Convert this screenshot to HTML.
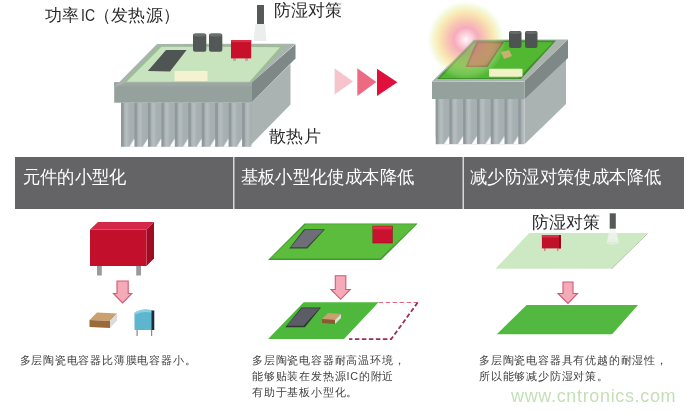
<!DOCTYPE html>
<html><head><meta charset="utf-8">
<style>
html,body{margin:0;padding:0;background:#fff;}
body{width:695px;height:411px;position:relative;overflow:hidden;filter:blur(0.3px);font-family:"Liberation Sans",sans-serif;}
svg{position:absolute;left:0;top:0;}
.t{position:absolute;white-space:nowrap;line-height:1;}
.hd{color:#fff;font-size:17px;letter-spacing:0.4px;top:167.5px;transform-origin:0 0;transform:scaleY(1.04);}
.sm{color:#404040;font-size:10.8px;letter-spacing:0.8px;line-height:16.1px;}
</style></head><body>
<svg width="695" height="411" viewBox="0 0 695 411">
<defs>
  <linearGradient id="fin1" x1="0" y1="0" x2="13.4" y2="0" gradientUnits="userSpaceOnUse" spreadMethod="repeat">
    <stop offset="0" stop-color="#8e9593"/>
    <stop offset="0.15" stop-color="#8e9593"/>
    <stop offset="0.2" stop-color="#a7afad"/>
    <stop offset="0.6" stop-color="#b3bbb9"/>
    <stop offset="0.85" stop-color="#a3aba9"/>
    <stop offset="1" stop-color="#8e9593"/>
  </linearGradient>
  <linearGradient id="fing" x1="0" y1="0" x2="1" y2="0">
    <stop offset="0" stop-color="#a8b0b2"/>
    <stop offset="0.5" stop-color="#b6bebf"/>
    <stop offset="1" stop-color="#acb4b6"/>
  </linearGradient>
  <pattern id="finp1" x="121" y="102.5" width="13.45" height="44.3" patternUnits="userSpaceOnUse">
    <rect x="0" y="0" width="13.45" height="44.3" fill="#a6afb1"/>
    <rect x="0" y="0" width="2.8" height="44.3" fill="#8f999b"/>
    <rect x="2.8" y="0" width="5.2" height="44.3" fill="url(#fing)"/>
    <polygon points="8.3,44.3 13.45,36 13.45,44.3" fill="#ffffff"/>
  </pattern>
  <pattern id="finp2" x="435.5" y="99" width="13.8" height="45.2" patternUnits="userSpaceOnUse">
    <rect x="0" y="0" width="13.8" height="45.2" fill="#a6afb1"/>
    <rect x="0" y="0" width="2.8" height="45.2" fill="#8f999b"/>
    <rect x="2.8" y="0" width="5.4" height="45.2" fill="url(#fing)"/>
    <polygon points="8.5,45.2 13.8,37 13.8,45.2" fill="#ffffff"/>
  </pattern>
  <radialGradient id="glow" cx="466" cy="39.5" r="40" gradientUnits="userSpaceOnUse">
    <stop offset="0" stop-color="#ffffff" stop-opacity="1"/>
    <stop offset="0.08" stop-color="#fde2ea" stop-opacity="1"/>
    <stop offset="0.3" stop-color="#f6a8ba" stop-opacity="0.92"/>
    <stop offset="0.5" stop-color="#f8c6aa" stop-opacity="0.85"/>
    <stop offset="0.7" stop-color="#f8e6a6" stop-opacity="0.72"/>
    <stop offset="0.86" stop-color="#eff6c8" stop-opacity="0.45"/>
    <stop offset="1" stop-color="#ffffff" stop-opacity="0"/>
  </radialGradient>
  <radialGradient id="lampglow" cx="0.5" cy="0.2" r="0.6">
    <stop offset="0" stop-color="#e0e4e2"/>
    <stop offset="1" stop-color="#ffffff" stop-opacity="0"/>
  </radialGradient>
</defs>

<!-- ============ HEATSINK 1 ============ -->
<!-- fins side -->
<polygon points="252,102 290.5,64 290.5,104.5 249,146.8 252,146.8" fill="#aab2b2"/>
<!-- slab side -->
<polygon points="251.5,82.5 295.5,44.3 295.5,58.5 290.5,63.5 251.5,102.5" fill="#7e8886"/>
<!-- fins front -->
<rect x="121" y="102.5" width="131" height="44.3" fill="url(#finp1)"/>
<!-- slab front -->
<rect x="114.2" y="82.3" width="137.8" height="20.4" fill="#95a19d"/><rect x="114.2" y="82.3" width="137.8" height="4" fill="#9ca7a4"/>
<!-- slab top rim -->
<polygon points="114.2,87.3 157,44 295.5,43.8 252,82.5 126,82.5" fill="#aab3ae"/>
<!-- board -->
<polygon points="123,82.3 159,45 285,45.5 251.5,82.3" fill="#9dbd96"/>
<polygon points="126.5,81.8 161.5,46.8 280,47.2 249.5,81.8" fill="#c8e4bf"/>
<!-- chip -->
<polygon points="166,50 186.6,50 170,71.6 147.8,71" fill="#4f5552"/>
<!-- yellow -->
<rect x="174.5" y="71" width="33" height="10" fill="#f5f2cf"/>
<!-- caps -->
<rect x="193" y="33.6" width="13.3" height="18.2" rx="2" fill="#525855"/>
<ellipse cx="199.6" cy="35" rx="6.6" ry="1.6" fill="#6a706d"/>
<rect x="209" y="33.6" width="13.3" height="18.2" rx="2" fill="#525855"/>
<ellipse cx="215.6" cy="35" rx="6.6" ry="1.6" fill="#6a706d"/>
<!-- red component -->
<rect x="233" y="57" width="3" height="4" fill="#c8a4a4"/>
<rect x="245" y="57" width="3" height="4" fill="#c8a4a4"/>
<rect x="231" y="40" width="20.2" height="18.4" fill="#c8102a"/><rect x="231" y="40" width="20.2" height="2.2" fill="#d83048"/>
<!-- lamp -->
<polygon points="255.5,24 265,24 266.5,41 253.5,41" fill="#eceeed"/>
<rect x="257" y="5" width="7" height="19" fill="#555a58"/>

<!-- arrows -->
<polygon points="334.6,68.3 353,81.5 334.6,94.6" fill="#f6c4cc"/>
<polygon points="357.3,68.3 376.3,82 357.3,96" fill="#ec6a82"/>
<polygon points="377,68.7 397.4,82.3 377,96" fill="#e0103c"/>

<!-- ============ HEATSINK 2 ============ -->
<circle cx="466" cy="39.5" r="40" fill="url(#glow)"/>
<polygon points="524.5,98 566,59 566,104 524.5,144.2" fill="#aab2b2"/>
<polygon points="524.5,81 568,39.5 568,58 524.5,99" fill="#7e8886"/>
<rect x="435.5" y="99" width="89" height="45.2" fill="url(#finp2)"/>
<rect x="432" y="81.5" width="92.5" height="17.5" fill="#95a19d"/>
<polygon points="432,81.5 474,39.5 568,39.5 524.5,81" fill="#aab3ae"/>
<polygon points="437,79 473.8,40.2 556,40.6 521,79" fill="#3f8f2a"/>
<polygon points="440,78 476,41.8 553,42.3 518.5,78" fill="#52b832"/>
<!-- chip brown -->
<polygon points="476.5,41.5 504,42 487.5,67 465.5,67" fill="#6e5a30"/>
<polygon points="478,43 501.5,43.5 486.5,65.5 468,65.5" fill="#9c6c44"/>
<!-- small comp -->
<polygon points="501,52 509,50 512,56 504,59" fill="#c8b070"/>
<!-- yellow -->
<rect x="489" y="68.8" width="33.5" height="8" rx="1" fill="#f2f2c8"/>
<!-- caps -->
<rect x="509" y="31" width="12.5" height="17" rx="2" fill="#4e5452"/>
<ellipse cx="515.2" cy="32.5" rx="6.2" ry="1.5" fill="#666c6a"/>
<rect x="525" y="31" width="12.5" height="17" rx="2" fill="#4e5452"/>
<ellipse cx="531.2" cy="32.5" rx="6.2" ry="1.5" fill="#666c6a"/>
<circle cx="466" cy="39.5" r="40" fill="url(#glow)" opacity="0.5"/>

<!-- ============ HEADER BAND ============ -->
<rect x="15" y="157" width="669" height="52" fill="#646467"/>
<rect x="233" y="157" width="1.5" height="52" fill="#d8d8d8"/>
<rect x="462.5" y="157" width="1.5" height="52" fill="#d8d8d8"/>

<!-- ============ COLUMN 1 ============ -->
<polygon points="90,229.5 98,222 154,222 146.5,229.5" fill="#d42848"/>
<polygon points="146.5,229.5 154,222 154,258.5 146.5,266" fill="#a00c24"/>
<rect x="90" y="229.5" width="56.5" height="36.5" fill="#c2102c"/>
<rect x="97" y="266" width="4.8" height="9.5" fill="#9a9c9c"/>
<rect x="136.2" y="266" width="4.8" height="9.5" fill="#9a9c9c"/>
<!-- pink arrow -->
<polygon points="117,281 128.2,281 128.2,293.5 131.8,293.5 122.6,303 113.4,293.5 117,293.5" fill="#f4aab8" stroke="#d05a70" stroke-width="1.1"/>
<!-- brown chip -->
<polygon points="89.5,320 97,312.5 117,313.5 110,321" fill="#cba070"/>
<polygon points="89.5,320 110,321 110,328 89.5,327" fill="#9a6a3a"/>
<polygon points="110,321 117,313.5 117,320.5 110,328" fill="#dcdcdc"/>
<!-- blue film cap -->
<rect x="136.5" y="329" width="1.2" height="7" fill="#888"/>
<rect x="151" y="329" width="1.2" height="7" fill="#888"/>
<path d="M134.5,313 Q142,307.5 152.5,310.5 L152.5,330 L134.5,330 Z" fill="#5cb6ce"/>
<path d="M134.5,313 Q142,307.5 152.5,310.5 L152.5,313 Q142,310.5 134.5,315 Z" fill="#88d0e0"/>
<rect x="151.5" y="310.5" width="2.8" height="19.5" fill="#1e2c38"/>

<!-- ============ COLUMN 2 ============ -->
<polygon points="304.5,223.5 417.7,223.5 381,260 268,260" fill="#3f9a2e"/>
<polygon points="305.5,224.3 415.8,224.3 380,258.6 270.3,258.6" fill="#5cbc3c"/>
<polygon points="304.1,229.2 325,229.2 307.3,248.5 289.2,248.5" fill="#2e4a30"/>
<polygon points="305,230 323.5,230 306.5,247.3 290.8,247.3" fill="#6e6e78"/>
<rect x="372.5" y="225.8" width="20.2" height="17.5" fill="#9c0c20"/>
<rect x="373" y="226.3" width="19" height="16.3" fill="#cc1030"/>
<rect x="373" y="226.3" width="19" height="3" fill="#e03048"/>
<!-- arrow -->
<polygon points="335.3,275.8 345.8,275.8 345.8,289.5 350.3,289.5 340.6,299.3 331,289.5 335.3,289.5" fill="#f4aab8" stroke="#d05a70" stroke-width="1.1"/>
<!-- board 2 -->
<polygon points="303.7,302.3 378.6,302.3 344,339.1 268.1,339.1" fill="#4db83b"/>
<line x1="378.6" y1="302.5" x2="417.5" y2="302.5" stroke="#d86a86" stroke-width="1.2" stroke-dasharray="4.5,2.5"/>
<polyline points="417.7,302.5 391.2,339.1 349,339.1" fill="none" stroke="#9a3050" stroke-width="1.8" stroke-dasharray="4.5,2.5"/>
<polygon points="301.4,307.6 321,307.6 304.9,327.2 285.3,327.2" fill="#2e3a30"/>
<polygon points="301.8,308.3 319.5,308.3 303.6,325.8 286.6,325.8" fill="#5c5c66"/>
<!-- mlcc -->
<polygon points="322,319 328,313 341,314 335,320" fill="#cba070"/>
<polygon points="322,319 335,320 335,324 322,323" fill="#8a5a30"/>
<polygon points="335,320 341,314 341,318 335,324" fill="#dcdcdc"/>

<!-- ============ COLUMN 3 ============ -->
<polygon points="529.2,233 647,233 612,268.8 495.5,268.8" fill="#cde9c4"/><line x1="647.5" y1="233.5" x2="611.5" y2="268.8" stroke="#a9c7a2" stroke-width="1"/>
<polygon points="609.5,228.7 616,228.7 618.5,242 607,242" fill="#f2f5f1" opacity="0.8"/><ellipse cx="612.7" cy="242" rx="6.5" ry="3" fill="#e2f0e0" opacity="0.7"/>
<rect x="609.7" y="213.3" width="6.1" height="15.4" fill="#555a58"/>
<rect x="544" y="248" width="1.5" height="3" fill="#c09090"/>
<rect x="557" y="248" width="1.5" height="3" fill="#c09090"/>
<rect x="541.9" y="235" width="19" height="13.4" fill="#c0102a"/>
<rect x="541.9" y="235" width="19" height="2.5" fill="#d8304a"/>
<rect x="559" y="235" width="1.9" height="13.4" fill="#90081c"/>
<polygon points="563,282 573,282 573,293.5 577.5,293.5 568,303.4 558,293.5 563,293.5" fill="#f4aab8" stroke="#d05a70" stroke-width="1.1"/>
<polygon points="526.6,305 638,305 612.1,334.2 496.8,334.2" fill="#52b840"/>
</svg>

<div class="t" style="left:45px;top:6.8px;font-size:16.5px;color:#2a2a2a;">功率</div>
<div class="t" style="left:80.5px;top:6.8px;font-size:16.5px;color:#2a2a2a;letter-spacing:0px;transform:scaleX(0.85);transform-origin:0 0;">IC</div>
<div class="t" style="left:94px;top:6.8px;font-size:16.5px;color:#2a2a2a;letter-spacing:0.2px;">（发热源）</div>
<div class="t" style="left:274px;top:1.7px;font-size:17.3px;color:#2a2a2a;">防湿对策</div>
<div class="t" style="left:268.5px;top:127.5px;font-size:17px;letter-spacing:0.6px;color:#2a2a2a;">散热片</div>

<div class="t hd" style="left:22.5px;">元件的小型化</div>
<div class="t hd" style="left:240.5px;">基板小型化使成本降低</div>
<div class="t hd" style="left:470px;">减少防湿对策使成本降低</div>

<div class="t" style="left:531.5px;top:214px;font-size:17px;letter-spacing:0.3px;color:#2a2a2a;">防湿对策</div>

<div class="t sm" style="left:19.5px;top:352px;">多层陶瓷电容器比薄膜电容器小。</div>
<div class="t sm" style="left:252px;top:351.5px;">多层陶瓷电容器耐高温环境，<br>能够贴装在发热源IC的附近<br>有助于基板小型化。</div>
<div class="t sm" style="left:479px;top:352px;">多层陶瓷电容器具有优越的耐湿性，<br>所以能够减少防湿对策。</div>

<div class="t" style="left:511px;top:387px;font-size:18px;letter-spacing:0.66px;color:#c4dfb8;">www.cntronics.com</div>
</body></html>
